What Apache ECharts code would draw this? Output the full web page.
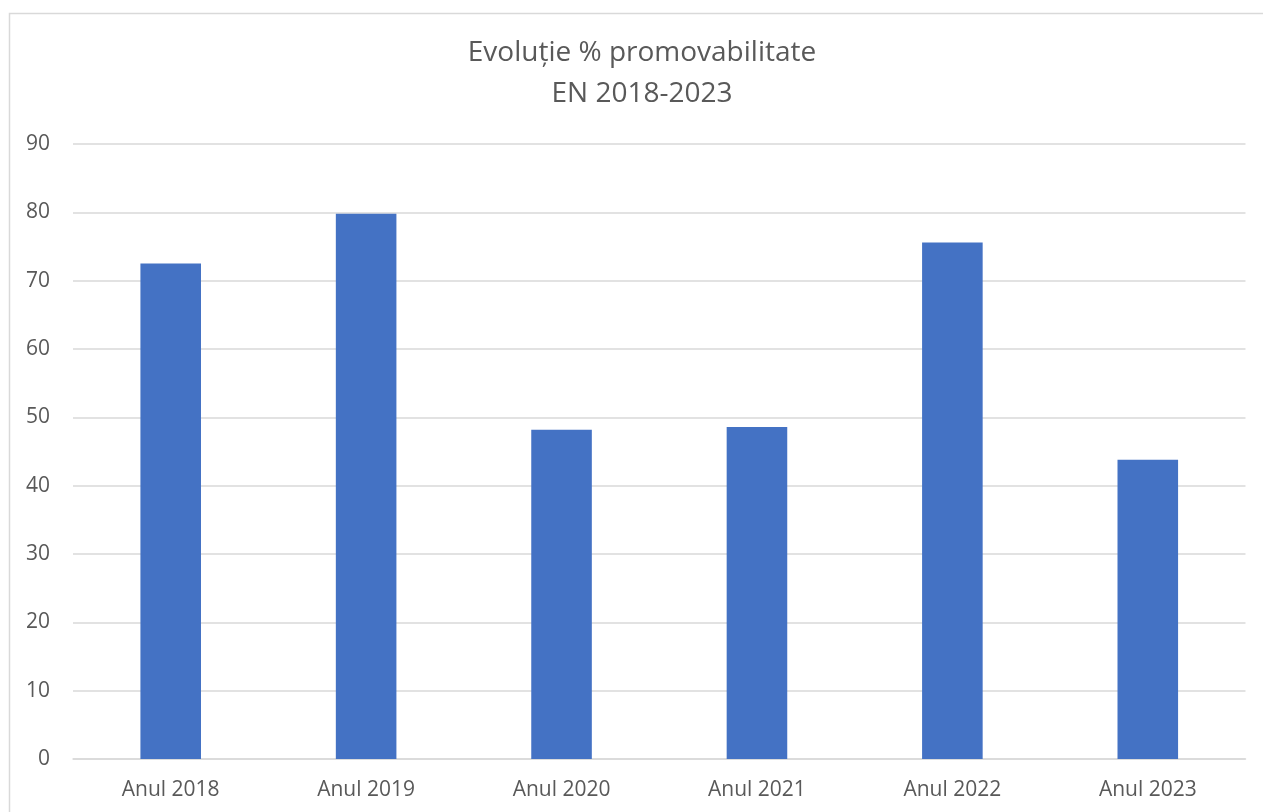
<!DOCTYPE html>
<html>
<head>
<meta charset="utf-8">
<script src="https://cdn.jsdelivr.net/npm/echarts@6/dist/echarts.min.js"></script>
<style>
html,body{margin:0;padding:0;background:#fff;}
#chart{width:1263px;height:812px;}
</style>
</head>
<body>
<div id="chart"></div>
<script>
const categories = ['Anul 2018','Anul 2019','Anul 2020','Anul 2021','Anul 2022','Anul 2023'];
const values = [72.5, 79.8, 48.2, 48.6, 75.6, 43.8];
const titleText = 'Evoluție % promovabilitate\nEN 2018-2023';

const chart = echarts.init(document.getElementById('chart'));
chart.setOption({
  animation: false,
  backgroundColor: '#ffffff',
  graphic: [{
    type: 'rect',
    shape: {x: 9.5, y: 13.5, width: 1300, height: 900},
    style: {fill: 'none', stroke: '#d9d9d9', lineWidth: 1.5},
    silent: true
  }],
  title: {
    text: titleText,
    left: 637,
    textAlign: 'center',
    top: 28,
    textStyle: {
      fontFamily: 'Open Sans',
      fontSize: 28,
      fontWeight: 'normal',
      color: '#595959',
      lineHeight: 41
    }
  },
  grid: {left: 73, right: 17.5, top: 144, bottom: 53, containLabel: false},
  xAxis: {
    type: 'category',
    data: categories,
    axisLine: {show: true, lineStyle: {color: '#d9d9d9', width: 1.5}},
    axisTick: {show: false},
    axisLabel: {fontFamily: 'Open Sans', fontSize: 21, color: '#595959', margin: 21}
  },
  yAxis: {
    type: 'value',
    min: 0, max: 90, interval: 10,
    axisLine: {show: false},
    axisTick: {show: false},
    splitLine: {lineStyle: {color: '#d9d9d9', width: 1.5}},
    axisLabel: {fontFamily: 'Open Sans', fontSize: 21, color: '#595959', margin: 23}
  },
  series: [{
    type: 'bar',
    data: values,
    barWidth: '31%',
    itemStyle: {color: '#4472C4'}
  }]
});
</script>
</body>
</html>
